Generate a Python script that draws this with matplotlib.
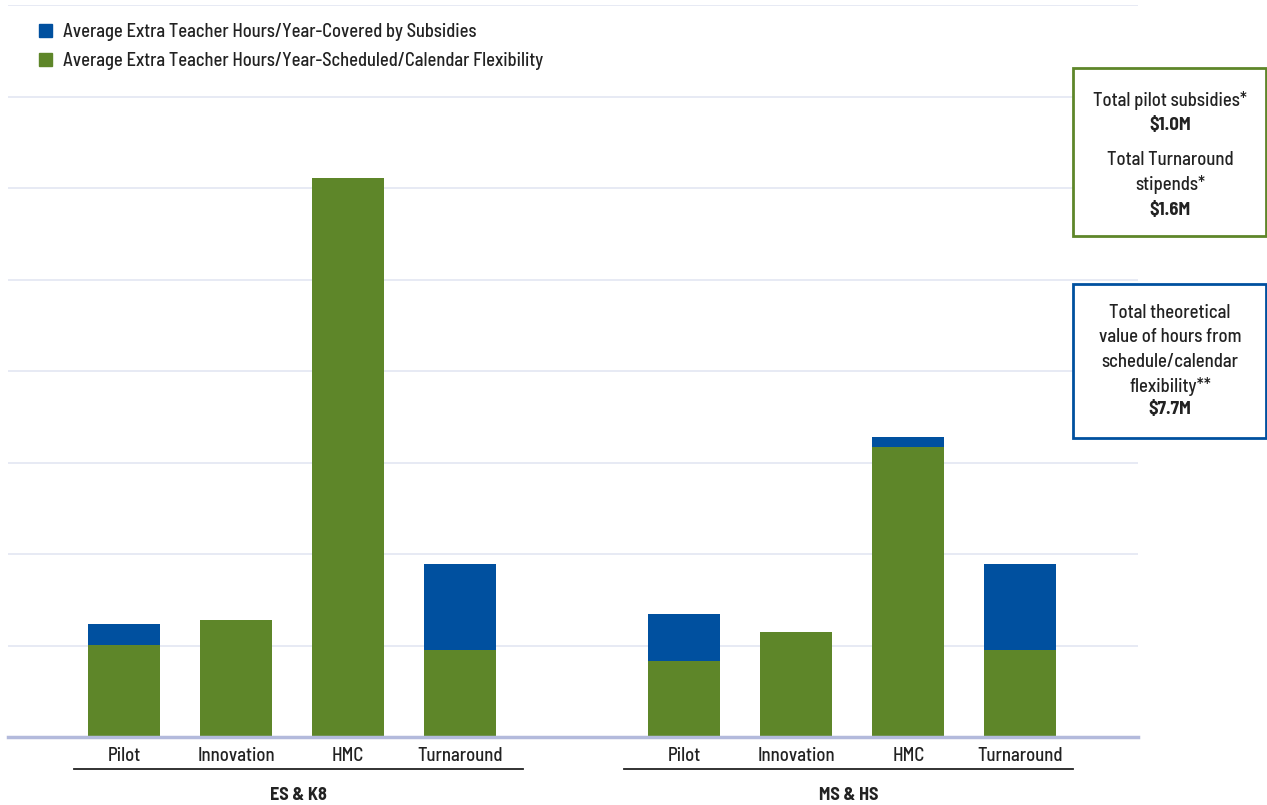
import matplotlib.pyplot as plt
import numpy as np
from matplotlib.patches import Rectangle
from matplotlib.lines import Line2D

plt.rcParams['font.family'] = ['Barlow Semi Condensed', 'Barlow Condensed', 'Liberation Sans Narrow', 'DejaVu Sans']
plt.rcParams['font.weight'] = 'medium'

# data (hours / year)
categories = ["Pilot", "Innovation", "HMC", "Turnaround"]
groups = ["ES & K8", "MS & HS"]
flex_es = [50.3, 64, 305.5, 47.5]
subs_es = [11.5, 0, 0, 47]
flex_ms = [41.5, 57.4, 158.5, 47.5]
subs_ms = [25.7, 0, 5.5, 47]

blue = "#00509F"
green = "#5E8629"
txt = "#222222"

fig = plt.figure(figsize=(12.67, 8.05), dpi=100)
ax = fig.add_axes([8 / 1267, 1 - 737.3 / 805, 1130 / 1267, 732.3 / 805])

pos_es = np.arange(4)
pos_ms = np.arange(4) + 5
w = 0.643
for pos, flex, subs in [(pos_es, flex_es, subs_es), (pos_ms, flex_ms, subs_ms)]:
    ax.bar(pos, flex, width=w, color=green, zorder=2)
    ax.bar(pos, subs, width=w, bottom=flex, color=blue, zorder=2)

ax.set_xlim(-1.036, 9.05)
ax.set_ylim(0, 400)
ax.set_yticks(np.arange(0, 401, 50))
ax.yaxis.grid(True, color="#e3e6f2", lw=1.2, zorder=0)
ax.tick_params(axis="y", left=False, labelleft=False)
for s in ["top", "right", "left"]:
    ax.spines[s].set_visible(False)
ax.spines["bottom"].set_color("#b3badc")
ax.spines["bottom"].set_linewidth(2.5)
ax.spines["bottom"].set_zorder(3)

ax.set_xticks(np.concatenate([pos_es, pos_ms]))
ax.set_xticklabels(categories * 2, fontsize=13.5, color=txt)
ax.tick_params(axis="x", length=0, pad=7)

# group labels with underline
for pos, g, (a, b) in [(pos_es, groups[0], (-0.446, 0.56)), (pos_ms, groups[1], (-0.536, 0.473))]:
    x0, x1 = pos[0] + a, pos[-1] + b
    ax.add_line(Line2D([x0, x1], [-17.5, -17.5], color="#222222", lw=1.3, clip_on=False))
    ax.text((x0 + x1) / 2, -31.8, g, ha="center", va="center", fontsize=13,
            fontweight="bold", color=txt, clip_on=False)

# legend
handles = [Rectangle((0, 0), 1, 1, color=blue), Rectangle((0, 0), 1, 1, color=green)]
fig.legend(handles,
           ["Average Extra Teacher Hours/Year-Covered by Subsidies",
            "Average Extra Teacher Hours/Year-Scheduled/Calendar Flexibility"],
           loc="upper left", bbox_to_anchor=(0.018, 0.992), frameon=False,
           fontsize=13.3, handlelength=0.7, handleheight=0.7, handletextpad=0.55,
           labelspacing=0.6, labelcolor=txt)

# side boxes
def px(x, y):
    return x / 1267, 1 - y / 805

for (x0, y0, x1, y1, c) in [(1073, 68, 1266, 236, green), (1073, 284, 1266, 438, blue)]:
    fx0, fy1 = px(x0, y0)
    fx1, fy0 = px(x1, y1)
    fig.patches.append(Rectangle((fx0, fy0), fx1 - fx0, fy1 - fy0, transform=fig.transFigure,
                                 facecolor="white", edgecolor=c, lw=2, zorder=5))

box_lines = [
    ("Total pilot subsidies*", 100, False),
    ("$1.0M", 126, True),
    ("Total Turnaround", 160, False),
    ("stipends*", 185, False),
    ("$1.6M", 210, True),
    ("Total theoretical", 313, False),
    ("value of hours from", 337, False),
    ("schedule/calendar", 362, False),
    ("flexibility**", 386, False),
    ("$7.7M", 410, True),
]
for s, y, b in box_lines:
    fx, fy = px(1170, y)
    fig.text(fx, fy, s, ha="center", va="center", fontsize=13.5, color=txt,
             fontweight="bold" if b else "medium", zorder=6)

fig.savefig("out.png", dpi=100)
